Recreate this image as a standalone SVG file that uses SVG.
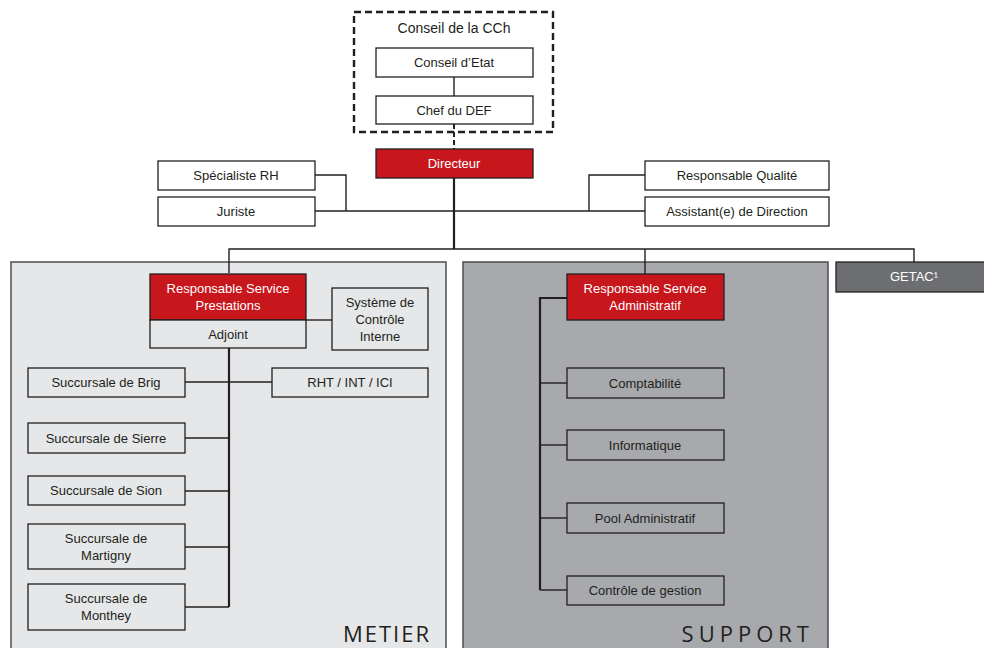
<svg xmlns="http://www.w3.org/2000/svg" width="984" height="648" viewBox="0 0 984 648">
<style>
text{font-family:"Liberation Sans",Arial,sans-serif;font-size:13px;fill:#231f20;text-anchor:middle}
.box{fill:#fff;stroke:#231f20;stroke-width:1.3}
.red{fill:#c8161d;stroke:#231f20;stroke-width:1.3}
.lb{fill:#e6e7e8;stroke:#231f20;stroke-width:1.3}
.gb{fill:#a7a9ac;stroke:#231f20;stroke-width:1.3}
.w{fill:#fff}
.ln{fill:none;stroke:#231f20;stroke-width:1.4}
.th{fill:none;stroke:#231f20;stroke-width:2.2}
.big{font-family:"Open Sans","Liberation Sans",sans-serif;font-size:22px;text-anchor:end;fill:#231f20}
</style>
<rect width="984" height="648" fill="#fff"/>
<g id="metier-area">
<rect x="11" y="262" width="435" height="400" fill="#e6e7e8" stroke="#4d4d4f" stroke-width="1.5"/>
<text class="big" x="431" y="642" style="letter-spacing:2px">METIER</text>
</g>
<g id="support-area">
<rect x="463" y="262" width="365" height="400" fill="#a7a9ac" stroke="#4d4d4f" stroke-width="1.5"/>
<text class="big" x="814" y="642" style="letter-spacing:5px">SUPPORT</text>
</g>
<g id="connectors">
<line class="ln" x1="454" y1="77" x2="454" y2="96"/>
<line x1="454" y1="124" x2="454" y2="149" stroke="#231f20" stroke-width="2" stroke-dasharray="5,3"/>
<polyline class="ln" points="315,175 346,175 346,211"/>
<line class="ln" x1="315" y1="211" x2="645" y2="211"/>
<polyline class="ln" points="645,175 589,175 589,211"/>
<line class="th" x1="454" y1="178" x2="454" y2="249"/>
<polyline class="ln" points="229,273 229,249 914,249 914,262"/>
<line class="ln" x1="645" y1="249" x2="645" y2="274"/>
<line class="ln" x1="306" y1="320" x2="332" y2="320"/>
<line class="th" x1="229" y1="348" x2="229" y2="607"/>
<line class="ln" x1="185" y1="382" x2="272" y2="382"/>
<line class="ln" x1="185" y1="438" x2="229" y2="438"/>
<line class="ln" x1="185" y1="491" x2="229" y2="491"/>
<line class="ln" x1="185" y1="547" x2="229" y2="547"/>
<line class="ln" x1="185" y1="607" x2="229" y2="607"/>
<polyline class="th" points="567,298 540,298 540,590"/>
<line class="ln" x1="540" y1="383" x2="567" y2="383"/>
<line class="ln" x1="540" y1="445" x2="567" y2="445"/>
<line class="ln" x1="540" y1="518" x2="567" y2="518"/>
<line class="ln" x1="540" y1="590" x2="567" y2="590"/>
</g>
<g id="conseil-cch">
<rect x="354" y="12" width="199" height="120" fill="none" stroke="#231f20" stroke-width="2.4" stroke-dasharray="7,4"/>
<text x="454" y="33" style="font-size:14px">Conseil de la CCh</text>
</g>
<g id="conseil-etat"><rect class="box" x="376" y="48" width="157" height="29"/><text x="454" y="67">Conseil d’Etat</text></g>
<g id="chef-def"><rect class="box" x="376" y="96" width="157" height="28"/><text x="454" y="115">Chef du DEF</text></g>
<g id="directeur"><rect class="red" x="376" y="149" width="157" height="29"/><text class="w" x="454" y="168">Directeur</text></g>
<g id="specialiste-rh"><rect class="box" x="158" y="161" width="157" height="29"/><text x="236" y="180">Spécialiste RH</text></g>
<g id="juriste"><rect class="box" x="158" y="197" width="157" height="29"/><text x="236" y="216">Juriste</text></g>
<g id="resp-qualite"><rect class="box" x="645" y="161" width="184" height="29"/><text x="737" y="180">Responsable Qualité</text></g>
<g id="assistant"><rect class="box" x="645" y="197" width="184" height="29"/><text x="737" y="216">Assistant(e) de Direction</text></g>
<g id="getac"><rect x="836" y="262" width="160" height="30" fill="#6d6e71" stroke="#231f20" stroke-width="1.3"/><text class="w" x="914" y="281">GETAC¹</text></g>
<g id="resp-prestations">
<rect class="red" x="150" y="274" width="156" height="46"/>
<text class="w" x="228" y="293">Responsable Service</text>
<text class="w" x="228" y="310">Prestations</text>
</g>
<g id="adjoint"><rect class="lb" x="150" y="320" width="156" height="28"/><text x="228" y="339">Adjoint</text></g>
<g id="systeme-controle">
<rect class="lb" x="332" y="288" width="96" height="62"/>
<text x="380" y="307">Système de</text>
<text x="380" y="324">Contrôle</text>
<text x="380" y="341">Interne</text>
</g>
<g id="brig"><rect class="lb" x="28" y="368" width="157" height="29"/><text x="106" y="387">Succursale de Brig</text></g>
<g id="rht"><rect class="lb" x="272" y="368" width="156" height="29"/><text x="350" y="387">RHT / INT / ICI</text></g>
<g id="sierre"><rect class="lb" x="28" y="423" width="157" height="30"/><text x="106" y="443">Succursale de Sierre</text></g>
<g id="sion"><rect class="lb" x="28" y="476" width="157" height="29"/><text x="106" y="495">Succursale de Sion</text></g>
<g id="martigny"><rect class="lb" x="28" y="524" width="157" height="45"/><text x="106" y="543">Succursale de</text><text x="106" y="560">Martigny</text></g>
<g id="monthey"><rect class="lb" x="28" y="584" width="157" height="46"/><text x="106" y="603">Succursale de</text><text x="106" y="620">Monthey</text></g>
<g id="resp-admin">
<rect class="red" x="567" y="274" width="157" height="46"/>
<text class="w" x="645" y="293">Responsable Service</text>
<text class="w" x="645" y="310">Administratif</text>
</g>
<g id="comptabilite"><rect class="gb" x="567" y="368" width="157" height="30"/><text x="645" y="388">Comptabilité</text></g>
<g id="informatique"><rect class="gb" x="567" y="430" width="157" height="30"/><text x="645" y="450">Informatique</text></g>
<g id="pool-admin"><rect class="gb" x="567" y="503" width="157" height="30"/><text x="645" y="523">Pool Administratif</text></g>
<g id="controle-gestion"><rect class="gb" x="567" y="576" width="157" height="29"/><text x="645" y="595">Contrôle de gestion</text></g>
</svg>
